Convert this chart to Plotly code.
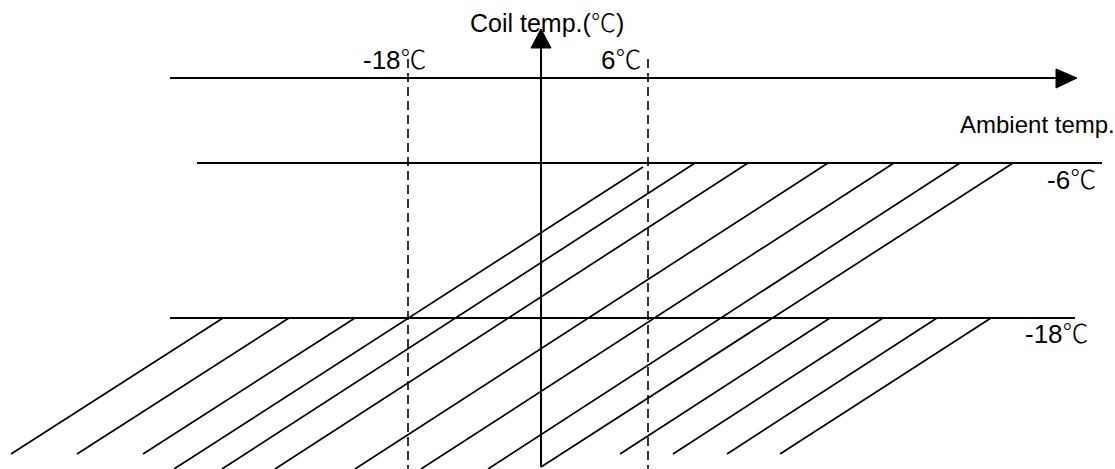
import plotly.graph_objects as go

W, H = 1115, 469

# ---- diagram geometry (units = reference pixels, y grows downward) ----
# ambient-temperature axis (horizontal arrow)
amb_axis_x = [170, 1058]
amb_axis_y = [78, 78]
amb_head_x = [1056, 1077, 1056]
amb_head_y = [69, 78, 88]
# coil-temperature axis (vertical arrow)
coil_axis_x = [541, 541]
coil_axis_y = [467, 48]
coil_head_x = [531, 541, 551]
coil_head_y = [48, 29, 48]
# dashed ambient limits (-18 C and 6 C)
dash_x = [408, 648]
dash_y = [59, 469]
# coil limit lines (-6 C and -18 C)
limit_x0 = [197, 170]
limit_x1 = [1102, 1075]
limit_y = [163, 318]

# hatch segments (top end -> bottom end)
hatch_top_x = [643, 695, 748, 828, 894, 960, 1013, 223, 289, 355, 830, 883, 937, 991]
hatch_top_y = [167, 163, 163, 163, 163, 163, 163, 318, 318, 318, 318, 318, 318, 318]
hatch_bot_x = [174, 222, 275, 355, 421, 488, 541, 11, 77, 143, 620, 673, 727, 780]
hatch_bot_y = [469, 469, 469, 469, 469, 469, 467, 454, 454, 454, 454, 454, 454, 454]

# labels
label_text = ["Coil temp.(℃)", "-18℃", "6℃", "Ambient temp.", "-6℃", "-18℃"]
label_x = [469, 362, 600, 959, 1097, 1090]
label_y = [21, 57, 57, 124, 177, 331]
label_anchor = ["left", "left", "left", "left", "right", "right"]
label_size = [25, 26, 26, 24, 26, 26]

INK = "#000000"
DEG = "℃"

fig = go.Figure()

# hatch lines
hx, hy = [], []
for x0, y0, x1, y1 in zip(hatch_top_x, hatch_top_y, hatch_bot_x, hatch_bot_y):
    hx += [x0, x1, None]
    hy += [y0, y1, None]
fig.add_trace(go.Scatter(x=hx, y=hy, mode="lines",
                         line=dict(color=INK, width=1.7), hoverinfo="skip"))

# limit lines
lx, ly = [], []
for x0, x1, y in zip(limit_x0, limit_x1, limit_y):
    lx += [x0, x1, None]
    ly += [y, y, None]
fig.add_trace(go.Scatter(x=lx, y=ly, mode="lines",
                         line=dict(color=INK, width=2), hoverinfo="skip"))

# dashed lines
dx, dy = [], []
for x in dash_x:
    dx += [x, x, None]
    dy += [dash_y[0], dash_y[1], None]
fig.add_trace(go.Scatter(x=dx, y=dy, mode="lines",
                         line=dict(color=INK, width=1.6, dash="9px,5px"),
                         hoverinfo="skip"))

# axes
fig.add_trace(go.Scatter(x=amb_axis_x, y=amb_axis_y, mode="lines",
                         line=dict(color=INK, width=2), hoverinfo="skip"))
fig.add_trace(go.Scatter(x=coil_axis_x, y=coil_axis_y, mode="lines",
                         line=dict(color=INK, width=2), hoverinfo="skip"))
for ax_, ay_ in [(amb_head_x, amb_head_y), (coil_head_x, coil_head_y)]:
    fig.add_trace(go.Scatter(x=ax_ + [ax_[0]], y=ay_ + [ay_[0]], mode="lines",
                             fill="toself", fillcolor=INK,
                             line=dict(color=INK, width=1), hoverinfo="skip"))

# labels
for t, x, y, a, s in zip(label_text, label_x, label_y, label_anchor, label_size):
    t = t.replace(DEG, "<span style=\"font-family:'Noto Sans CJK SC';font-weight:300\">℃</span>")
    fig.add_annotation(x=x, y=y, xref="x", yref="y", text=t, showarrow=False,
                       xanchor=a, yanchor="middle", borderpad=0,
                       font=dict(family="Liberation Sans, Arial, sans-serif",
                                 size=s, color=INK))

fig.update_layout(
    width=W, height=H,
    margin=dict(l=0, r=0, t=0, b=0),
    paper_bgcolor="white", plot_bgcolor="white",
    showlegend=False,
    xaxis=dict(range=[0, W], visible=False, fixedrange=True),
    yaxis=dict(range=[H, 0], visible=False, fixedrange=True),
)

fig.write_html("out.html", config={"displayModeBar": False},
               post_script="document.body.style.margin='0';document.body.style.overflow='hidden';")
